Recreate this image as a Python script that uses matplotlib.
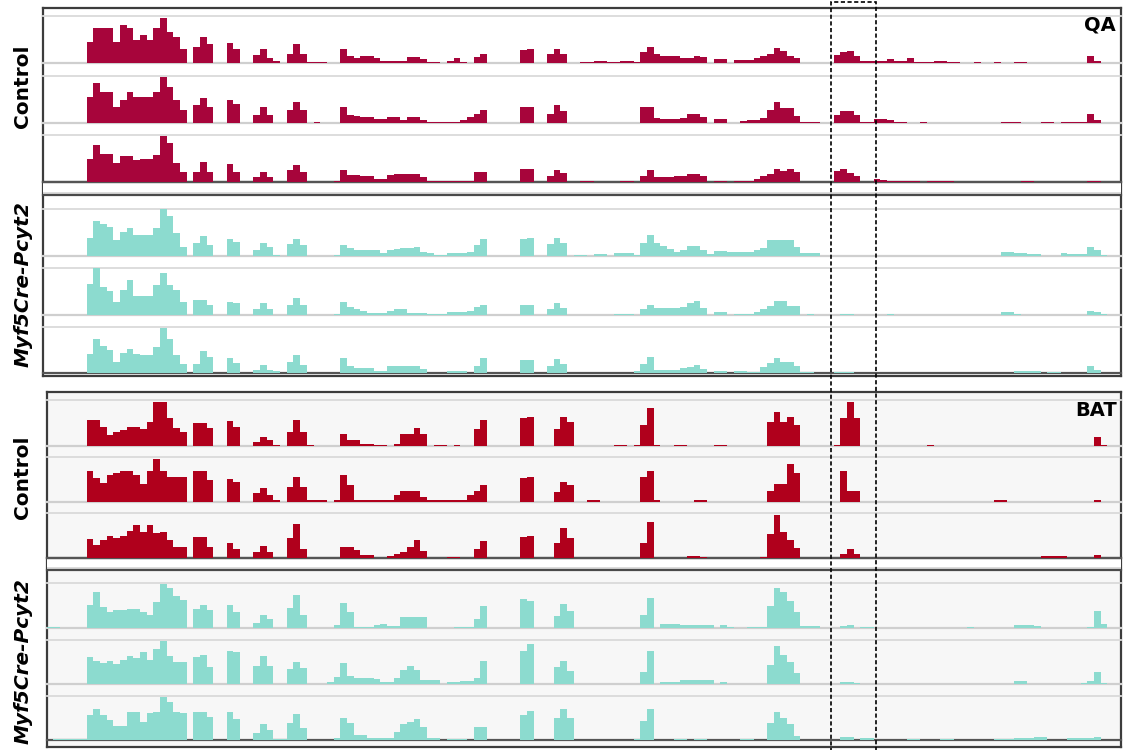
import numpy as np
import matplotlib
matplotlib.use("Agg")
import matplotlib.pyplot as plt

# read coverage, one value per genomic bin (161 bins over the locus),
# scaled so that 20 = full track height
qa_ctrl1 = [0,0,0,0,0,0,9,15,15,15, 9,16,15,10,12,10,15,19,13,11,
            6,0,7,11,8,0,0,8.5,6,0, 0,3.5,6,2,0.7,0,4,8,4,0.5,
            0.5,0.5,0,0,6,3,2,3,3,2, 1,1,1,1,2.5,2.5,1.7,0.5,0.5,0,
            1,2,0.5,0,2.5,4,0,0,0,0, 0,5.5,6,0,0,4,6,4,0,0,
            0.5,0.5,1,1,0.5,0.5,1,1,0.5,4.5, 7,4,3,3,3,2,2,3,2.5,0,
            1.7,1.7,0,1.4,1.4,1.4,2,3,4,6.5, 5,3,2,0,0,0,0,0,3.5,4.5,
            5,3,1,1,1,1,1.7,1,1,2, 0.5,0.5,0.5,1,1,0.5,0.5,0,0,0.4,
            0,0,0.4,0,0,0.5,0.5,0,0,0, 0,0,0,0,0,0,3,0.7,0,0, 0]
qa_ctrl2 = [0,0,0,0,0,0,11,17,13,13, 7,10,13,11,11,11,13,19.5,15.5,10,
            5.5,0,7.5,10.5,7,0,0,10,8,0, 0,3.3,6.8,3.3,0,0,5.4,9,5.4,0,
            0.4,0,0,0,6.8,3.3,2.8,2.5,2.5,1.8, 1.8,2.5,2.5,1.4,2.5,2.5,1.4,0.5,0.5,0.5,
            0.5,0.5,1.4,2.5,4,5.7,0,0,0,0, 0,7,7,0,0,4,7.5,5,0,0,
            0,0,0,0,0,0,0,0,0,6.8, 6.8,2,1.8,1.8,1.8,2,4,4,2.5,0,
            1.8,1.8,0,0,0.7,1.4,1.4,2,5.4,9, 6.4,6.4,3,0.5,0.5,0.5,0,0,3.3,5,
            5,3.3,0.5,0.5,1.8,1.8,1.4,0.5,0.5,0, 0,0.5,0,0,0,0,0,0,0,0,
            0,0,0,0.5,0.5,0.5,0,0,0,0.5, 0.5,0,0.5,0.5,0.5,0.5,4,1.4,0,0, 0]
qa_ctrl3 = [0,0,0,0,0,0,9.6,15.7,12,12, 8,11,11,9.3,9.6,9.6,11.4,19.6,16.4,8,
            4.3,0,4.3,8.6,4.3,0,0,7.6,4.3,0, 0,2.1,4.3,2.1,0,0,5,7.4,4.3,0,
            0,0,0,0.4,5,3,3,2.5,2.4,1.1, 1.1,2.9,3.3,3.3,3.3,3.3,2.1,0.6,0.6,0.6,
            0.6,0.6,0.6,0.6,4.3,4.3,0,0,0,0, 0,5.4,5.4,0,0,2.4,5,3.9,0,0,
            0.6,0.6,0,0,0,0,0.6,0.6,0,2.4, 5,2.1,2.1,2.1,2.4,2.4,3.4,3.4,2.4,0,
            0.6,0.6,0,0.6,0.6,0.6,1.4,2.5,3.6,5.7, 4.5,5.7,4.3,0,0,0,0,0,4.5,5.7,
            4,2.4,0,0,1.1,0.8,0.6,0.6,0.6,0.6, 0.6,0,0.6,0.6,0.6,0.6,0,0,0,0,
            0,0,0,0,0,0,0.6,0.6,0,0, 0,0,0,0,0,0,0.6,0.6,0,0, 0]
qa_mut1 = [0,0,0,0,0,0,7.6,14.7,13.7,12.3, 6.9,10,11.9,9,9,9,11.9,20,16.9,9.7,
           3.7,0,5.7,8.3,4.7,0,0,7.1,6.1,0, 0,2.6,5.4,4,0.4,0,5.1,7.1,4.7,0,
           0,0,0,0.4,4.7,3.5,2.6,2.6,2.6,2.6, 1.4,2.5,2.9,3.3,3.3,4,1.9,1.1,0.4,0.4,
           1.1,1.1,1.1,1.6,4.7,7.1,0,0,0,0, 0,7.3,7.6,0,0,5.1,7.6,5.4,0,0.4,
           0.4,0,0.7,0.7,0,1.1,1.1,1.1,0.5,5.4, 9,5.4,4.3,3,1.9,2.6,4.3,4.3,2.6,1,
           2.3,2.3,1.9,1.9,1.9,1.9,2.5,3.3,6.9,6.9, 6.6,6.6,4,1.1,1.1,1.1,0,0,0,0,
           0,0,0,0,0,0,0,0,0,0, 0,0,0,0,0,0,0,0,0,0,
           0,0,0,1.9,1.9,1.1,1.1,0.7,0.7,0, 0,0,1.1,0.7,0.7,0.7,4,2.6,0.5,0, 0]
qa_mut2 = [0,0,0,0,0,0,13.3,20,12,10, 5.7,10.7,15,8,8,8,12.9,18,12.9,10.7,
           5.7,0,6.4,6.4,4.3,0,0,5.7,5,0, 0,2.4,5,2.4,0,0,4.3,7.1,4.3,0,
           0,0,0,0.4,5.7,3.5,2.4,1.5,1,1, 1,1.5,2.4,2.4,1,1,1,0.4,0.4,0.4,
           1.4,1.4,1.4,1.9,3.6,4.3,0,0,0,0, 0,4.3,4.3,0,0,2.4,5,2.9,0,0,
           0,0,0,0,0,0.4,0.4,0.4,0,2.4, 4.3,2.9,2.9,2.9,2.9,3.6,5.3,6,2.9,0,
           1.4,1.4,0,0.4,0.4,0.4,1.4,2.5,3.9,6, 6,3.9,3.9,0,0.4,0,0,0,0,0.4,
           0.4,0,0,0,0,0,0.4,0,0,0, 0,0,0,0,0,0,0,0,0,0,
           0,0,0,1.4,1.4,0.4,0,0,0,0, 0,0,0,0,0,0,1.9,1.4,0.5,0, 0]
qa_mut3 = [0,0,0,0,0,0,8.3,14.6,11.7,10, 5,8.6,10.3,8.1,7.9,7.9,11.4,19.7,15,7.9,
           4,0,4,9.6,6.9,0,0,6.7,4.3,0, 0,1.4,3.3,1.4,0.7,0,5,7.9,3.6,0,
           0,0,0,0,6.4,3,2.1,2.1,2.1,1, 1,3.1,3.1,3.1,3.1,3.1,1.7,0,0,0,
           1,1,1,0,2.9,6.4,0,0,0,0, 0,5.7,5.7,0,0,2.9,6,4,0,0,
           0,0,0,0,0,0,0,0,0.7,4, 7.1,1.4,1.4,1.4,1.4,2.1,2.6,3.3,1.7,0,
           0.7,0.7,0,0.7,0.7,0.3,0.3,2.5,4.3,6.7, 4.6,4.6,2.9,0.3,0.3,0,0,0,0.3,0.3,
           0.3,0,0,0,0,0,0,0,0,0, 0,0,0,0,0,0,0,0,0,0,
           0,0,0,0,0,0.7,0.7,0.7,0.7,0, 0.3,0.3,0,0,0,0,2.9,1.4,0,0, 0]

bat_ctrl1 = [0,0,0,0,0,0,11.2,11.2,8.3,4.7, 6,7,8.3,8.3,7.6,10.5,19,19,12,8,
             6,0,9.8,9.8,7.9,0,0,10.8,8.3,0, 0,1.8,3.9,2.5,0.6,0,6.1,11.2,6.1,0.6,
             0,0,0,0,5.4,2.5,2.5,1,1,0.6, 0.6,0,1,5.4,5.4,7.9,5.4,0,0.6,0.6,
             0,0.6,0,0,7.6,11.2,0,0,0,0, 0,12,12.4,0,0,0,7.6,12.4,10.5,0,
             0,0,0,0,0,0.6,0.6,0,0.6,9, 16.6,0.6,0,0,0.6,0.6,0,0,0,0,
             0.6,0.6,0,0,0,0,0,0,10.5,14.6, 10.5,12.7,9.3,0,0,0,0,0,0.6,12,
             19,12,0,0,0,0,0,0,0,0, 0,0,0.6,0,0,0,0,0,0,0,
             0,0,0,0,0,0,0,0,0,0, 0,0,0,0,0,0,0,3.9,0.6,0, 0]
bat_ctrl2 = [0,0,0,0,0,0,13.7,10.7,8.6,11.9, 13,14,14,11.9,8.1,14,19.3,14,11,11,
             11,0,14,14,10,0,0,10.4,8.9,0, 0,4.1,6.2,3,0.7,0,6.7,11.1,6.7,0.7,
             0.7,0.7,0,0.7,11.9,7.4,0.7,0.7,0.7,0.7, 0.7,0.7,3,4.7,4.7,4.7,2.2,0.7,0.7,0.7,
             0.7,0.7,0.7,3,4.7,7.4,0,0,0,0, 0,10.7,11.1,0,0,0,4.4,8.9,7.4,0,
             0,0.7,0.7,0,0,0,0,0,0,11.1, 14,0.7,0,0,0,0,0,0.7,0.7,0,
             0,0,0,0,0,0,0,0,4.7,8, 8,17,13,0,0,0,0,0,0,14,
             4.7,4.7,0,0,0,0,0,0,0,0, 0,0,0,0,0,0,0,0,0,0,
             0,0,0.7,0.7,0,0,0,0,0,0, 0,0,0,0,0,0,0,1,0,0, 0]
bat_ctrl3 = [0,0,0,0,0,0,8.4,6,8,9.9, 9,10,12,14.5,11.7,14.5,11,11.7,8,5,
             5,0,9.5,9.5,5,0,0,6.5,4.2,0, 0,2.7,5.4,2.7,0,0,8.7,15,4.2,0,
             0,0,0,0,5,5,3.5,1.2,1.2,0, 0,0.9,2,2.7,5,8,3,0,0,0,
             0.5,0.5,0,0,4.2,7.5,0,0,0,0, 0,9.5,9.9,0,0,0,6.5,13.2,8.7,0,
             0,0,0,0,0,0,0,0,0,6.5, 16.2,0,0,0,0,0,0.9,0.9,0.5,0,
             0,0,0,0,0,0,0,0.5,10.5,19.2, 11.7,8,4.5,0,0,0,0,0,0,2,
             3.9,2,0,0,0,0,0,0,0,0, 0,0,0,0,0,0,0,0,0,0,
             0,0,0,0,0,0,0,0,0,0.8, 0.8,0.8,0.8,0,0,0,0,1.2,0,0, 0]
bat_mut1 = [0.4,0.4,0,0,0,0,10.2,16.2,9.5,7.2, 8,8,8.3,8.3,7.2,5.7,11.7,19.7,17.7,14.4,
            12.5,0,8.3,10.2,8,0,0,10.2,7.2,0, 0,2.4,6,4.2,0,0,8.7,14.7,6,0,
            0,0,0,1.5,11,7.2,0.5,0.5,0.5,1.2, 2,0.9,0.9,5,5,5,5,0,0,0,
            0,0.5,0.5,0.5,4.2,9.9,0,0,0,0, 0,12.8,12,0,0,0,5.4,10.5,7.5,0,
            0,0,0,0,0,0,0,0,0,5.7, 13.2,0,2,2,2,1.2,1.2,1.2,1.2,1.2,
            0,1.2,0.5,0,0,0.5,0.5,0.5,9.9,18, 16,12,7.2,0.9,0.9,0.9,0,0,0,0.8,
            1.2,0,0.5,0.5,0,0,0,0,0,0, 0,0,0,0,0,0,0,0,0.5,0,
            0,0,0,0,0,1.2,1.2,1.2,0.9,0, 0,0,0,0,0,0,0.5,7.5,2,0, 0]
bat_mut2 = [0,0,0,0,0,0,12.4,10.6,9.4,10.4, 8.9,10.9,12.9,12,14.4,10.9,15.9,19.5,12.9,10.2,
            10.2,0,12.4,13.2,7.9,0,0,15,14.4,0, 0,8.3,12.9,8.3,0,0,6.8,10.2,7.1,0,
            0,0,0.8,3.3,9.4,3.8,2.6,2.6,2.6,2.1, 0.8,1.1,2.6,6.4,8.3,6.4,1.8,1.8,1.8,0,
            1.1,1.1,1.5,1.5,2.9,10.6,0,0,0,0, 0,15,18,0,0,0,7.6,10.6,5.9,0,
            0,0,0,0,0,0,0,0,0,5.6, 15,0,0.8,0.8,0.8,1.8,1.8,1.8,1.8,1.8,
            0,0.8,0,0,0,0,0,0,8.6,17.3, 13.2,10.2,4.9,0,0,0,0,0,0,1.1,
            1.1,0.3,0,0,0,0,0,0,0,0, 0,0,0,0,0,0,0,0,0,0,
            0,0,0,0,0,1.4,1.4,0,0,0, 0,0,0,0,0,0.5,1.5,5.6,0.5,0, 0]
bat_mut3 = [0,0.4,0.4,0.4,0.4,0.4,11.4,14.1,11.4,9.1, 6.5,6.5,12.9,12.9,8.3,12.1,12.9,19.4,17.1,12.9,
            12.1,0,12.9,12.9,10.6,0,0,12.9,9.5,0, 0,3,7.1,4.5,0.4,0.4,7.6,11.7,5.6,0,
            0,0,0,0.8,9.8,7.6,2.3,2.3,1,0.8, 0.8,0.8,3.8,7.1,8.3,9.5,6.1,1,1,0,
            0.4,0.4,0.4,0,6.1,6.1,0,0,0,0, 0,11.4,13.3,0,0,0,10.2,13.9,10.2,0,
            0,0,0,0,0,0,0,0,0.4,8.6, 14.1,0,0,0,0.4,0.4,0,0.4,0.4,0,
            0,0,0,0,0.4,0.4,0,0,7.6,12.9, 9.8,7.1,2,0,0,0,0,0,0,1.2,
            1.2,0,0.8,0.8,0,0,0,0,0,0.4, 0.4,0,0,0,0.4,0.4,0,0,0,0,
            0,0,0.4,0.4,0.4,0.8,0.8,0.8,1.5,1.5, 0,0,0,0.8,0.8,0.8,0.8,1.5,0,0, 0]

highlight = [117.6, 124.3]   # boxed region, in bins
group_labels = ["Control", "Myf5Cre-Pcyt2"]
tissues = ["QA", "BAT"]

W, H = 1123, 750
x0_px, bin_px = 46.7, 6.67   # pixel position of bin 0 and pixel width of one bin
red_qa = "#a7053b"
red_bat = "#b0001c"
teal = "#8cdbcf"

fig = plt.figure(figsize=(W / 100, H / 100), dpi=100)


def px_axes(l, t, r, b, z=1):
    ax = fig.add_axes([l / W, 1 - b / H, (r - l) / W, (b - t) / H], zorder=z)
    ax.set_xticks([])
    ax.set_yticks([])
    return ax


def set_bins(ax, l, r):
    ax.set_xlim((l - x0_px) / bin_px, (r - x0_px) / bin_px)


def track(l, t, r, b, vals, color, base="#cfcfcf"):
    ax = px_axes(l, t, r, b, z=3)
    ax.patch.set_alpha(0)
    for s in ax.spines.values():
        s.set_visible(False)
    ax.axhline(20, color="#dadada", lw=1.3, clip_on=False, zorder=0)
    ax.axhline(0, color=base, lw=1.6, clip_on=False, zorder=1)
    ax.stairs(vals, np.arange(len(vals) + 1), fill=True, color=color, lw=0, zorder=2)
    set_bins(ax, l, r)
    ax.set_ylim(0, 20)
    return ax


def frame(l, t, r, b, face):
    ax = px_axes(l, t, r, b, z=1)
    ax.set_facecolor(face)
    for s in ax.spines.values():
        s.set_color("#3c3c3c")
        s.set_linewidth(1.6)
    return ax


def separator(l, t, r, b):
    ax = px_axes(l, t, r, b, z=2)
    ax.set_facecolor("white")
    ax.spines["left"].set_visible(False)
    ax.spines["right"].set_visible(False)
    for k in ("top", "bottom"):
        ax.spines[k].set_color("#4a4a4a")
        ax.spines[k].set_linewidth(1.6)
    ax.axhline(0.15, color="#d6d6d6", lw=1.2)
    return ax


# QA panel
frame(43, 7.5, 1121, 376, "white")
separator(43, 182, 1121, 195)
qa_rows = [(16, 63), (76, 123), (135, 182), (209, 256), (268, 315), (327, 373)]
qa_data = [qa_ctrl1, qa_ctrl2, qa_ctrl3, qa_mut1, qa_mut2, qa_mut3]
for i, ((t, b), vals) in enumerate(zip(qa_rows, qa_data)):
    col = red_qa if i < 3 else teal
    base = "#555555" if i in (2, 5) else "#cfcfcf"
    track(43, t, 1121, b, vals, col, base)

# BAT panel
frame(47, 392, 1121, 747, "#f7f7f7")
separator(47, 558, 1121, 570)
bat_rows = [(400, 446), (457, 502), (513, 558), (583, 628), (640, 684), (696, 740)]
bat_data = [bat_ctrl1, bat_ctrl2, bat_ctrl3, bat_mut1, bat_mut2, bat_mut3]
for i, ((t, b), vals) in enumerate(zip(bat_rows, bat_data)):
    col = red_bat if i < 3 else teal
    base = "#555555" if i in (2, 5) else "#cfcfcf"
    track(47, t, 1121, b, vals, col, base)

# side labels
lab_y = [86, 284, 477, 661]
for k, y in enumerate(lab_y):
    txt = group_labels[k % 2]
    style = "italic" if k % 2 else "normal"
    fig.text(23 / W, 1 - y / H, txt, rotation=90, ha="center", va="center",
             fontsize=14.5, fontweight="bold", fontstyle=style, family="DejaVu Sans")

fig.text(1116 / W, 1 - 25 / H, tissues[0], ha="right", va="center",
         fontsize=14, fontweight="bold")
fig.text(1117 / W, 1 - 410 / H, tissues[1], ha="right", va="center",
         fontsize=14, fontweight="bold")

# dashed highlight box over both panels
ov = px_axes(43, 2, 1121, 760, z=6)
ov.patch.set_alpha(0)
for s in ov.spines.values():
    s.set_visible(False)
set_bins(ov, 43, 1121)
ov.set_ylim(0, 1)
ov.axvspan(highlight[0], highlight[1], ymin=0, ymax=1, fill=False,
           edgecolor="black", lw=1.2, ls=(0, (2.5, 1.5)), clip_on=False)

fig.savefig("out.png", dpi=100)
